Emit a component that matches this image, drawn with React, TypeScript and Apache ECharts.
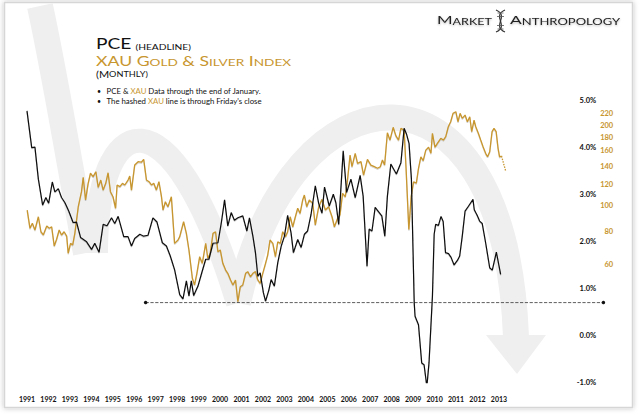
import { useEffect, useRef } from "react";
import * as echarts from "echarts";

// decimal year, headline PCE y/y %
const pceData: [number, number][] = [
  [1991.0, 4.77], [1991.22, 3.99], [1991.37, 4.0], [1991.53, 3.32], [1991.73, 2.77], [1991.88, 2.93],
  [1992.01, 2.81], [1992.18, 3.26], [1992.3, 3.05], [1992.46, 3.12], [1992.61, 2.93], [1992.77, 2.82],
  [1992.95, 2.64], [1993.15, 2.4], [1993.31, 2.41], [1993.5, 2.08], [1993.78, 1.99], [1994.01, 1.83],
  [1994.16, 1.96], [1994.36, 1.77], [1994.55, 2.36], [1994.73, 2.33], [1994.94, 2.5], [1995.09, 2.38],
  [1995.25, 2.53], [1995.51, 2.1], [1995.71, 2.1], [1995.87, 1.9], [1996.02, 2.06], [1996.26, 2.15],
  [1996.44, 2.11], [1996.64, 2.13], [1996.87, 2.5], [1997.06, 2.41], [1997.31, 1.97], [1997.5, 1.9],
  [1997.68, 1.69], [1997.88, 1.4], [1998.12, 0.87], [1998.27, 0.78], [1998.43, 1.16], [1998.55, 0.84],
  [1998.66, 1.16], [1998.77, 0.85], [1998.97, 1.05], [1999.17, 1.37], [1999.33, 1.62], [1999.48, 1.62],
  [1999.67, 1.96], [1999.9, 1.97], [2000.06, 2.4], [2000.21, 2.88], [2000.36, 2.33], [2000.52, 2.61],
  [2000.67, 2.45], [2000.83, 2.5], [2001.06, 2.54], [2001.25, 2.22], [2001.37, 2.5], [2001.53, 2.11],
  [2001.65, 1.76], [2001.76, 1.26], [2001.87, 1.33], [2002.02, 0.91], [2002.12, 0.73], [2002.27, 0.96],
  [2002.38, 1.19], [2002.53, 1.05], [2002.69, 1.55], [2002.85, 1.9], [2003.0, 2.11], [2003.15, 2.55],
  [2003.31, 2.18], [2003.42, 1.76], [2003.62, 2.04], [2003.78, 1.87], [2003.93, 2.15], [2004.08, 2.22],
  [2004.24, 2.57], [2004.44, 3.18], [2004.6, 2.8], [2004.75, 2.6], [2004.87, 3.15], [2005.09, 2.75],
  [2005.28, 3.0], [2005.4, 2.82], [2005.53, 2.36], [2005.74, 3.92], [2005.9, 3.04], [2006.1, 3.32],
  [2006.3, 2.93], [2006.53, 3.4], [2006.67, 2.96], [2006.85, 1.47], [2006.95, 2.26], [2007.08, 2.22],
  [2007.23, 2.72], [2007.42, 2.61], [2007.54, 2.54], [2007.68, 2.11], [2007.8, 2.96], [2007.96, 3.64],
  [2008.22, 3.43], [2008.43, 3.67], [2008.58, 4.4], [2008.69, 4.28], [2008.81, 4.08], [2008.92, 3.32],
  [2009.05, 0.7], [2009.09, 0.41], [2009.25, 0.23], [2009.4, -0.58], [2009.51, -0.62], [2009.64, -1.08],
  [2009.74, -0.58], [2009.9, 0.84], [2009.98, 2.15], [2010.05, 2.36], [2010.18, 2.34], [2010.3, 2.53],
  [2010.4, 2.42], [2010.51, 1.76], [2010.65, 1.74], [2010.77, 1.66], [2010.91, 1.5], [2011.07, 1.6],
  [2011.17, 1.69], [2011.29, 2.11], [2011.42, 2.64], [2011.57, 2.74], [2011.79, 2.89], [2011.85, 2.67],
  [2011.99, 2.55], [2012.1, 2.43], [2012.22, 2.38], [2012.38, 1.97], [2012.57, 1.44], [2012.69, 1.39],
  [2012.88, 1.77], [2013.08, 1.3],
];

// decimal year, XAU index level
const xauData: [number, number][] = [
  [1991.01, 95.9], [1991.14, 81.9], [1991.25, 85.5], [1991.37, 80.7], [1991.53, 90.5], [1991.65, 79.5],
  [1991.76, 77.3], [1991.92, 83.5], [1992.04, 81.9], [1992.15, 83], [1992.27, 70.3], [1992.38, 74.5],
  [1992.5, 80.7], [1992.61, 77.3], [1992.73, 79.5], [1992.85, 76.6], [1992.92, 66], [1993.03, 71.9],
  [1993.13, 70.9], [1993.23, 78.4], [1993.39, 98.7], [1993.54, 112.4], [1993.62, 127.3], [1993.73, 104.6],
  [1993.85, 120.8], [1993.96, 131.8], [1994.08, 128], [1994.21, 133.6], [1994.32, 116.7], [1994.44, 124.3],
  [1994.55, 114], [1994.67, 120.8], [1994.78, 132.4], [1994.89, 112.4], [1995.01, 107.6], [1995.13, 97.4],
  [1995.2, 119.1], [1995.33, 117.4], [1995.45, 120.8], [1995.56, 119.1], [1995.71, 124.3], [1995.79, 128.7],
  [1995.87, 114], [1996.02, 141.5], [1996.18, 145.7], [1996.33, 145], [1996.44, 148.7], [1996.57, 124.3],
  [1996.69, 122.5], [1996.8, 119.1], [1996.91, 120.8], [1997.03, 114], [1997.15, 122.5], [1997.27, 107.6],
  [1997.34, 95.9], [1997.45, 103], [1997.57, 98.7], [1997.73, 107.6], [1997.88, 71.9], [1998.04, 74],
  [1998.12, 76.2], [1998.3, 86.7], [1998.43, 78.4], [1998.55, 67.9], [1998.71, 53.2], [1998.81, 50.2],
  [1998.92, 55.5], [1999.05, 64.1], [1999.17, 60.5], [1999.33, 71.9], [1999.43, 63.2], [1999.54, 66],
  [1999.67, 78.4], [1999.79, 79.5], [1999.9, 66.9], [2000.01, 67.9], [2000.13, 60.5], [2000.26, 57.1],
  [2000.36, 55.5], [2000.49, 52.4], [2000.6, 50.2], [2000.72, 52.4], [2000.83, 43.4], [2000.94, 49.4],
  [2001.06, 50.2], [2001.19, 55.5], [2001.29, 56.3], [2001.42, 53.9], [2001.53, 55.5], [2001.65, 56.3],
  [2001.76, 52.4], [2001.87, 50.9], [2001.99, 55.5], [2002.12, 60.5], [2002.22, 65], [2002.33, 74],
  [2002.46, 71.9], [2002.58, 64.1], [2002.69, 72.9], [2002.81, 71.9], [2002.92, 79.5], [2003.05, 76.2],
  [2003.15, 79.5], [2003.27, 90.5], [2003.39, 83], [2003.51, 90.5], [2003.62, 97.4], [2003.73, 93.2],
  [2003.85, 104.6], [2003.93, 109.2], [2004.04, 98.7], [2004.16, 104.6], [2004.32, 101.7], [2004.44, 84.3],
  [2004.6, 98.7], [2004.75, 105.2], [2004.91, 95.9], [2005.06, 98.7], [2005.22, 90.5], [2005.33, 83],
  [2005.48, 89.3], [2005.59, 91.9], [2005.71, 110.8], [2005.84, 107.6], [2005.94, 124.3], [2006.06, 154.3],
  [2006.15, 139.5], [2006.3, 156.6], [2006.41, 143.6], [2006.57, 145.7], [2006.69, 129.8], [2006.87, 148.7],
  [2007.03, 141.5], [2007.19, 139.5], [2007.34, 137.6], [2007.47, 139.5], [2007.57, 147.8], [2007.67, 141.5],
  [2007.8, 187.1], [2007.92, 175.6], [2008.07, 196.1], [2008.2, 182], [2008.32, 175.6], [2008.43, 194.3],
  [2008.58, 191.5], [2008.67, 138], [2008.8, 81], [2008.91, 108], [2009.02, 122.5], [2009.15, 121],
  [2009.25, 137.6], [2009.36, 152], [2009.47, 147], [2009.59, 161], [2009.72, 165], [2009.83, 156.6],
  [2009.9, 186.2], [2010.02, 165], [2010.13, 170.7], [2010.29, 178.3], [2010.41, 175.6], [2010.52, 181],
  [2010.64, 197.1], [2010.75, 205.8], [2010.86, 221.3], [2010.99, 224.4], [2011.09, 205.8], [2011.19, 221.3],
  [2011.29, 211.9], [2011.42, 218], [2011.53, 205.8], [2011.64, 214.9], [2011.73, 188.8], [2011.84, 208.8],
  [2011.92, 197.1], [2012.04, 186.2], [2012.15, 175.6], [2012.26, 165.8], [2012.38, 156.6], [2012.47, 152],
  [2012.57, 158.8], [2012.68, 188.8], [2012.77, 194.3], [2012.87, 188.8], [2012.96, 163.5], [2013.03, 152],
  [2013.12, 153],
];

// hashed part, through Friday's close
const xauTail: [number, number][] = [[2013.12, 153], [2013.22, 143], [2013.32, 134]];

// dashed support line on the PCE scale
const supportLine: [number, number][] = [[1996.53, 0.7], [2017.87, 0.7]];

const yearTicks = [
  1991, 1992, 1993, 1994, 1995, 1996, 1997, 1998, 1999, 2000, 2001, 2002,
  2003, 2004, 2005, 2006, 2007, 2008, 2009, 2010, 2011, 2012, 2013,
];
const xauTicks = [60, 80, 100, 120, 140, 160, 180, 200, 220];

const GOLD = "#c8962f";
const ARC = "#efefef";
const FONT = "Lato, 'Open Sans', sans-serif";

export default function App() {
  const chartRef = useRef<HTMLDivElement>(null);

  useEffect(() => {
    if (!chartRef.current) return;
    const chart = echarts.init(chartRef.current, null, { renderer: "svg" });

    const option: any = {
      animation: false,
      textStyle: { fontFamily: FONT },
      grid: { left: 27, right: 33.8, top: 100, bottom: 33.3, containLabel: false, outerBoundsMode: "none" },
      xAxis: {
        type: "value",
        min: 1991,
        max: 2018,
        axisLine: { show: false },
        axisTick: { show: false },
        splitLine: { show: false },
        axisLabel: {
          customValues: yearTicks,
          formatter: (v: number) => String(Math.round(v)),
          margin: 13,
          fontSize: 7,
          fontWeight: "bold",
          color: "#111",
        },
      },
      yAxis: [
        {
          type: "value",
          position: "right",
          min: -1,
          max: 5,
          interval: 1,
          axisLine: { show: false },
          axisTick: { show: false },
          splitLine: { show: false },
          axisLabel: {
            inside: true,
            margin: 10,
            align: "right",
            formatter: (v: number) => v.toFixed(1) + "%",
            fontSize: 7.5,
            fontWeight: "bold",
            color: "#111",
          },
        },
        {
          type: "value",
          position: "right",
          min: Math.log(21.56),
          max: Math.log(248.3),
          axisLine: { show: false },
          axisTick: { show: false },
          splitLine: { show: false },
          axisLabel: {
            customValues: xauTicks.map((t) => Math.log(t)),
            formatter: (v: number) => String(Math.round(Math.exp(v))),
            margin: 7,
            align: "right",
            fontSize: 7.5,
            fontWeight: "bold",
            color: GOLD,
          },
        },
      ],
      graphic: [
        {
          type: "rect",
          z: -10,
          silent: true,
          shape: { x: 4.5, y: 2.5, width: 628, height: 405 },
          style: { fill: "#fff", stroke: "#d6d6d6", lineWidth: 1.5, shadowBlur: 5, shadowColor: "rgba(0,0,0,0.25)" },
        },
        {
          type: "bezierCurve",
          z: -5,
          silent: true,
          shape: { x1: 40, y1: 6, cpx1: 58, cpy1: 90, cpx2: 72, cpy2: 180, x2: 86, y2: 253 },
          style: { stroke: ARC, lineWidth: 26, fill: "none" },
        },
        {
          type: "bezierCurve",
          z: -5,
          silent: true,
          shape: { x1: 96, y1: 253, cpx1: 96, cpy1: 110, cpx2: 170, cpy2: 80, x2: 238, y2: 303 },
          style: { stroke: ARC, lineWidth: 24, fill: "none" },
        },
        {
          type: "bezierCurve",
          z: -5,
          silent: true,
          shape: { x1: 238, y1: 303, cpx1: 290, cpy1: 60, cpx2: 505, cpy2: 40, x2: 516, y2: 337 },
          style: { stroke: ARC, lineWidth: 26, fill: "none" },
        },
        {
          type: "polygon",
          z: -5,
          silent: true,
          shape: { points: [[486, 335], [546, 335], [517, 374]] },
          style: { fill: ARC },
        },
        // title block
        {
          type: "text",
          x: 96,
          y: 51,
          scaleX: 1.2,
          style: {
            text: "{b|PCE} {s|(HEADLINE)}",
            verticalAlign: "bottom",
            rich: {
              b: { fontSize: 16, lineHeight: 16, fontFamily: FONT, fill: "#111", verticalAlign: "bottom" },
              s: { fontSize: 8.5, lineHeight: 11.5, fontFamily: FONT, fill: "#111", verticalAlign: "bottom" },
            },
          },
        },
        {
          type: "text",
          x: 96,
          y: 67,
          scaleX: 1.36,
          style: {
            text: "{b|XAU G}{s|OLD}{b| & S}{s|ILVER}{b| I}{s|NDEX}",
            verticalAlign: "bottom",
            rich: {
              b: { fontSize: 13, lineHeight: 13, fontFamily: FONT, fill: GOLD, verticalAlign: "bottom" },
              s: { fontSize: 10, lineHeight: 11.2, fontFamily: FONT, fill: GOLD, verticalAlign: "bottom" },
            },
          },
        },
        {
          type: "text",
          x: 96,
          y: 78.5,
          scaleX: 1.22,
          style: {
            text: "{b|(M}{s|ONTHLY)}",
            verticalAlign: "bottom",
            rich: {
              b: { fontSize: 9, lineHeight: 9, fontFamily: FONT, fill: "#111", verticalAlign: "bottom" },
              s: { fontSize: 7.5, lineHeight: 8.1, fontFamily: FONT, fill: "#111", verticalAlign: "bottom" },
            },
          },
        },
        {
          type: "text",
          x: 97,
          y: 90.7,
          style: { text: "•", fontSize: 7, fontFamily: FONT, fill: "#111", verticalAlign: "middle" },
        },
        {
          type: "text",
          x: 106.5,
          y: 90.7,
          style: {
            text: "{k|PCE & }{g|XAU}{k| Data through the end of January.}",
            verticalAlign: "middle",
            rich: {
              k: { fontSize: 7.8, fontFamily: FONT, fill: "#111" },
              g: { fontSize: 7.8, fontFamily: FONT, fill: GOLD },
            },
          },
        },
        {
          type: "text",
          x: 97,
          y: 101.2,
          style: { text: "•", fontSize: 7, fontFamily: FONT, fill: "#111", verticalAlign: "middle" },
        },
        {
          type: "text",
          x: 106.5,
          y: 101.2,
          style: {
            text: "{k|The hashed }{g|XAU}{k| line is through Friday's close}",
            verticalAlign: "middle",
            rich: {
              k: { fontSize: 7.8, fontFamily: FONT, fill: "#111" },
              g: { fontSize: 7.8, fontFamily: FONT, fill: GOLD },
            },
          },
        },
        // logo
        {
          type: "text",
          x: 437,
          y: 25.5,
          scaleX: 1.4,
          style: {
            text: "{b|M}{s|ARKET}",
            verticalAlign: "bottom",
            textShadowBlur: 2,
            textShadowColor: "rgba(0,0,0,0.3)",
            textShadowOffsetY: 1,
            rich: {
              b: { fontSize: 12, lineHeight: 12, fontFamily: FONT, fill: "#222", verticalAlign: "bottom" },
              s: { fontSize: 9, lineHeight: 10.2, fontFamily: FONT, fill: "#222", verticalAlign: "bottom" },
            },
          },
        },
        {
          type: "text",
          x: 510,
          y: 25.5,
          scaleX: 1.45,
          style: {
            text: "{b|A}{s|NTHROPOLOGY}",
            verticalAlign: "bottom",
            textShadowBlur: 2,
            textShadowColor: "rgba(0,0,0,0.3)",
            textShadowOffsetY: 1,
            rich: {
              b: { fontSize: 12, lineHeight: 12, fontFamily: FONT, fill: "#222", verticalAlign: "bottom" },
              s: { fontSize: 9, lineHeight: 10.2, fontFamily: FONT, fill: "#222", verticalAlign: "bottom" },
            },
          },
        },
        {
          type: "bezierCurve",
          shape: { x1: 496, y1: 10, cpx1: 510, cpy1: 16, cpx2: 491, cpy2: 26, x2: 505, y2: 32 },
          style: { stroke: "#333", lineWidth: 1.2, fill: "none" },
        },
        {
          type: "bezierCurve",
          shape: { x1: 505, y1: 10, cpx1: 491, cpy1: 16, cpx2: 510, cpy2: 26, x2: 496, y2: 32 },
          style: { stroke: "#333", lineWidth: 1.2, fill: "none" },
        },
        { type: "line", shape: { x1: 497.5, y1: 13, x2: 503.5, y2: 13 }, style: { stroke: "#555", lineWidth: 0.8 } },
        { type: "line", shape: { x1: 497, y1: 16.5, x2: 504, y2: 16.5 }, style: { stroke: "#555", lineWidth: 0.8 } },
        { type: "line", shape: { x1: 497, y1: 25.5, x2: 504, y2: 25.5 }, style: { stroke: "#555", lineWidth: 0.8 } },
        { type: "line", shape: { x1: 497.5, y1: 29, x2: 503.5, y2: 29 }, style: { stroke: "#555", lineWidth: 0.8 } },
      ],
      series: [
        {
          name: "Support",
          type: "line",
          yAxisIndex: 0,
          data: supportLine,
          symbol: "circle",
          symbolSize: 3.5,
          showSymbol: true,
          silent: true,
          itemStyle: { color: "#111" },
          lineStyle: { color: "#333", width: 0.8, type: "dashed", dashOffset: 0 },
          z: 2,
        },
        {
          name: "XAU",
          type: "line",
          yAxisIndex: 1,
          data: xauData.map(([t, v]) => [t, Math.log(v)]),
          showSymbol: false,
          lineStyle: { color: GOLD, width: 1.3, shadowColor: "rgba(0,0,0,0.2)", shadowBlur: 1.5, shadowOffsetY: 1 },
          z: 3,
        },
        {
          name: "XAU (hashed)",
          type: "line",
          yAxisIndex: 1,
          data: xauTail.map(([t, v]) => [t, Math.log(v)]),
          showSymbol: false,
          lineStyle: { color: GOLD, width: 1.3, type: [1.5, 1.2] },
          z: 3,
        },
        {
          name: "PCE",
          type: "line",
          yAxisIndex: 0,
          data: pceData,
          showSymbol: false,
          lineStyle: { color: "#111", width: 1.2, shadowColor: "rgba(0,0,0,0.2)", shadowBlur: 1.5, shadowOffsetY: 1 },
          z: 4,
        },
      ],
    };
    chart.setOption(option);

    return () => {
      chart.dispose();
    };
  }, []);

  return (
    <div
      ref={chartRef}
      style={{ position: "fixed", left: 0, top: 0, width: 640, height: 416, background: "#fff" }}
    />
  );
}
